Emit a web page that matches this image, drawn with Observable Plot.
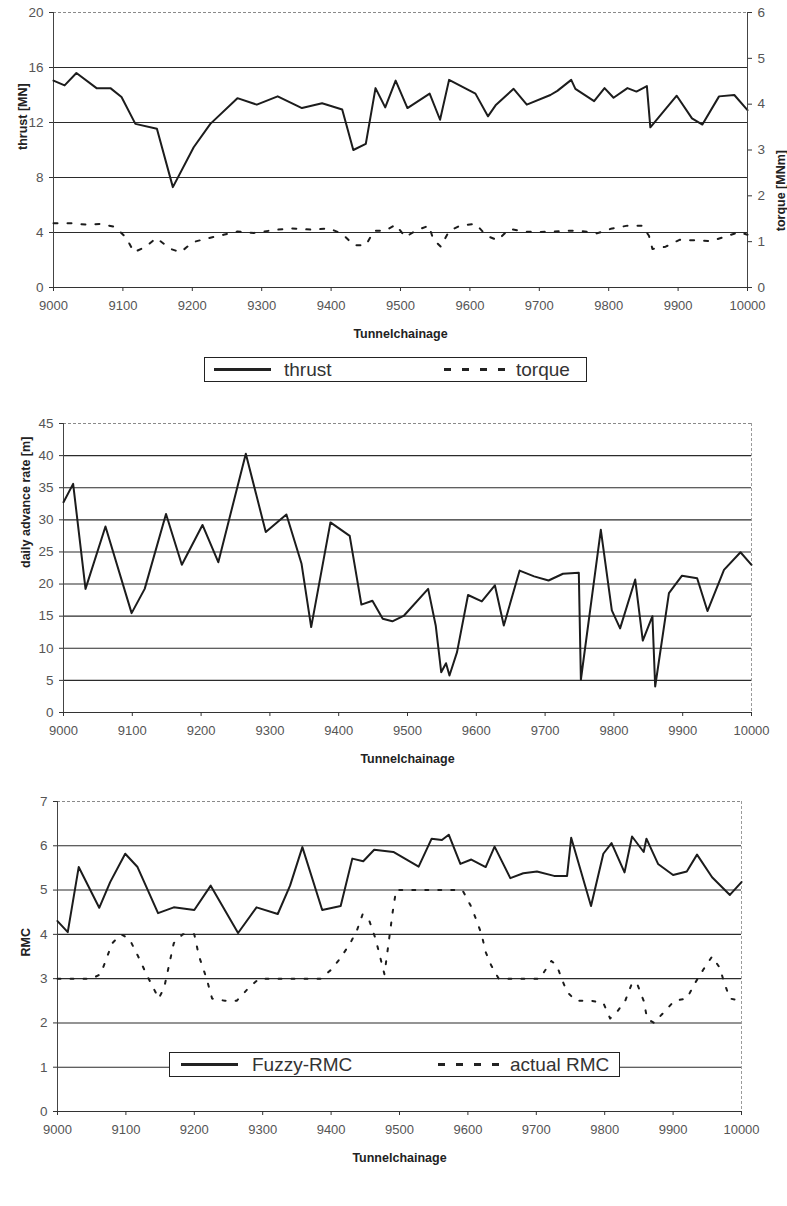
<!DOCTYPE html>
<html><head><meta charset="utf-8">
<script src="https://cdn.jsdelivr.net/npm/d3@7"></script>
<script src="https://cdn.jsdelivr.net/npm/@observablehq/plot@0.6"></script>
<style>
body{margin:0;background:#fff;}
#root{position:relative;width:787px;height:1206px;font-family:"Liberation Sans",Arial,sans-serif;color:#333;}
.layer{position:absolute;left:0;}
.legend{position:absolute;border:1px solid #222;background:#fff;box-sizing:border-box;}
.legend svg{position:absolute;left:0;top:0;overflow:visible;}
</style></head><body><div id="root"></div>
<script>
// ---------- data ----------
const xTickValues = [9000,9100,9200,9300,9400,9500,9600,9700,9800,9900,10000];

const thrustX = [9000,9016,9033,9062,9082,9098,9118,9149,9172,9202,9226,9265,9293,9323,9358,9387,9416,9432,9450,9464,9478,9493,9510,9542,9557,9570,9608,9626,9637,9663,9682,9716,9726,9746,9752,9779,9794,9807,9827,9840,9855,9860,9898,9920,9935,9959,9981,10000];
const thrustV = [15.05,14.7,15.6,14.5,14.5,13.85,11.9,11.55,7.3,10.2,11.9,13.77,13.3,13.9,13.05,13.4,12.95,10.0,10.45,14.5,13.1,15.05,13.05,14.1,12.2,15.1,14.1,12.45,13.25,14.45,13.3,14.0,14.3,15.1,14.45,13.55,14.5,13.8,14.5,14.25,14.65,11.65,13.95,12.3,11.85,13.9,14.0,12.9];

const torqueX = [9000,9027,9049,9068,9089,9105,9116,9133,9148,9169,9183,9201,9224,9245,9265,9289,9321,9344,9373,9397,9416,9433,9450,9462,9478,9493,9507,9522,9541,9547,9558,9570,9586,9608,9624,9640,9657,9677,9697,9719,9740,9762,9783,9803,9827,9848,9858,9863,9882,9902,9925,9947,9966,9988,10000];
const torqueV = [1.40,1.40,1.37,1.39,1.32,1.08,0.77,0.89,1.08,0.84,0.77,0.99,1.08,1.15,1.22,1.19,1.26,1.29,1.26,1.29,1.17,0.92,0.92,1.24,1.24,1.37,1.10,1.24,1.35,1.06,0.89,1.23,1.35,1.39,1.13,1.03,1.28,1.22,1.21,1.22,1.24,1.23,1.18,1.28,1.35,1.35,1.13,0.84,0.89,1.04,1.03,1.01,1.10,1.21,1.15];

const advanceX = [9000,9014,9032,9061,9099,9118,9149,9172,9202,9225,9265,9294,9324,9346,9360,9388,9416,9433,9449,9464,9478,9495,9530,9541,9549,9556,9561,9572,9588,9608,9627,9640,9663,9684,9705,9726,9749,9752,9781,9797,9809,9831,9842,9856,9860,9880,9899,9921,9936,9960,9984,10000];
const advanceV = [32.75,35.6,19.25,28.96,15.47,19.25,30.9,23.0,29.2,23.4,40.3,28.1,30.83,23.15,13.3,29.6,27.5,16.8,17.4,14.6,14.2,15.1,19.25,13.55,6.28,7.68,5.76,9.4,18.3,17.3,19.8,13.55,22.1,21.2,20.55,21.6,21.75,5.1,28.45,15.9,13.1,20.7,11.2,15.0,4.05,18.6,21.3,20.9,15.8,22.2,24.95,23.0];

const fuzzyX = [9000,9015,9031,9061,9077,9099,9117,9147,9170,9200,9224,9264,9291,9322,9340,9358,9387,9414,9431,9447,9463,9491,9528,9547,9562,9572,9589,9605,9626,9639,9662,9681,9701,9726,9745,9751,9780,9798,9810,9829,9840,9857,9861,9878,9900,9920,9935,9957,9983,10000];
const fuzzyV = [4.30,4.05,5.52,4.60,5.18,5.82,5.52,4.48,4.61,4.55,5.10,4.03,4.61,4.46,5.10,5.97,4.55,4.64,5.71,5.65,5.91,5.86,5.53,6.16,6.13,6.25,5.59,5.69,5.52,5.98,5.27,5.38,5.42,5.32,5.32,6.18,4.64,5.82,6.06,5.40,6.21,5.86,6.16,5.59,5.34,5.42,5.80,5.29,4.89,5.18];

const actualX = [9000,9050,9063,9080,9093,9105,9118,9130,9148,9156,9170,9183,9200,9207,9218,9226,9245,9262,9280,9295,9385,9400,9413,9428,9438,9446,9456,9465,9478,9484,9490,9495,9575,9592,9604,9613,9620,9626,9634,9645,9705,9722,9730,9737,9745,9758,9780,9798,9808,9818,9830,9840,9847,9857,9862,9872,9887,9902,9920,9932,9944,9957,9968,9975,9983,10000];
const actualV = [3,3,3.1,3.8,4,3.9,3.5,3.1,2.55,2.8,3.8,4,4,3.5,3.0,2.55,2.5,2.5,2.8,3,3,3.2,3.45,3.8,4.1,4.45,4.3,3.9,3.1,3.8,4.5,5,5,5,4.65,4.3,4,3.6,3.3,3,3,3.4,3.3,3,2.7,2.5,2.5,2.45,2.1,2.25,2.5,2.9,2.9,2.5,2.1,2,2.25,2.5,2.55,2.9,3.2,3.5,3.25,2.9,2.55,2.5];

const thrustTicks = [0,4,8,12,16,20];
const torqueTicks = [0,1,2,3,4,5,6];
const advanceTicks = [0,5,10,15,20,25,30,35,40,45];
const rmcTicks = [0,1,2,3,4,5,6,7];

// ---------- helpers ----------
const zip = (xs, vs) => xs.map((x, i) => ({x, v: vs[i]}));
const FONT = '"Liberation Sans", Arial, sans-serif';
const LINE = "#1c1c1c";
const root = document.getElementById("root");

function place(node, top) {
  node.classList.add("layer");
  node.style.top = top + "px";
  root.appendChild(node);
}

function baseChart({height, mt, mb, ml, mr, yMax, yTicks, yLabel, yLabelDx, lines, rightDark}) {
  const marks = [
    Plot.ruleY(yTicks.filter(v => v > 0 && v < yMax), {stroke: "#2b2b2b", strokeWidth: 1.1}),
    Plot.ruleY([yMax], {stroke: "#8a8a8a", strokeDasharray: "3 2"}),
    rightDark ? null : Plot.ruleX([10000], {stroke: "#9a9a9a", strokeDasharray: "3 2"}),
    Plot.ruleX([9000], {stroke: "#444"}),
    Plot.ruleY([0], {stroke: "#333", strokeWidth: 1.2}),
    Plot.axisX({ticks: xTickValues, tickFormat: d => String(d), tickSize: 4, tickPadding: 9, fontSize: 13, label: null, fill: "#555"}),
    Plot.axisY({ticks: yTicks, tickFormat: d => String(d), tickSize: 4, tickPadding: 6, fontSize: 13.5, label: null, fill: "#555"}),
    Plot.text(["Tunnelchainage"], {text: d => d, frameAnchor: "bottom", dy: 50, fontWeight: "bold", fontSize: 12.5, fill: "#222"}),
    Plot.text([yLabel], {text: d => d, frameAnchor: "left", dx: yLabelDx, rotate: -90, fontWeight: "bold", fontSize: 12.5, fill: "#222"}),
    ...lines
  ].filter(Boolean);
  return Plot.plot({
    width: 787, height,
    marginTop: mt, marginBottom: mb, marginLeft: ml, marginRight: mr,
    style: {background: "transparent", fontFamily: FONT, overflow: "visible", color: "#333"},
    x: {domain: [9000, 10000]},
    y: {domain: [0, yMax]},
    marks
  });
}

// ---------- chart 1: thrust + torque ----------
const c1 = {height: 350, mt: 12, mb: 63, ml: 53, mr: 40};
place(baseChart({
  ...c1, yMax: 20, yTicks: thrustTicks, yLabel: "thrust [MN]", yLabelDx: -31, rightDark: true,
  lines: [Plot.line(zip(thrustX, thrustV), {x: "x", y: "v", stroke: LINE, strokeWidth: 2})]
}), 0);

place(Plot.plot({
  width: 787, height: c1.height,
  marginTop: c1.mt, marginBottom: c1.mb, marginLeft: c1.ml, marginRight: c1.mr,
  style: {background: "transparent", fontFamily: FONT, overflow: "visible", color: "#333"},
  x: {domain: [9000, 10000], axis: null},
  y: {domain: [0, 6]},
  marks: [
    Plot.ruleX([10000], {stroke: "#444"}),
    Plot.axisY({anchor: "right", ticks: torqueTicks, tickFormat: d => String(d), tickSize: 4, tickPadding: 6, fontSize: 13.5, label: null, fill: "#555"}),
    Plot.text(["torque [MNm]"], {text: d => d, frameAnchor: "right", dx: 33, rotate: -90, fontWeight: "bold", fontSize: 12.5, fill: "#222"}),
    Plot.line(zip(torqueX, torqueV), {x: "x", y: "v", stroke: LINE, strokeWidth: 2, strokeDasharray: "4 10"})
  ]
}), 0);

// ---------- chart 2: daily advance rate ----------
place(baseChart({
  height: 390, mt: 33, mb: 68, ml: 63, mr: 36,
  yMax: 45, yTicks: advanceTicks, yLabel: "daily advance rate [m]", yLabelDx: -38,
  lines: [Plot.line(zip(advanceX, advanceV), {x: "x", y: "v", stroke: LINE, strokeWidth: 2})]
}), 390);

// ---------- chart 3: RMC ----------
place(baseChart({
  height: 426, mt: 21, mb: 95, ml: 57, mr: 46,
  yMax: 7, yTicks: rmcTicks, yLabel: "RMC", yLabelDx: -32,
  lines: [
    Plot.line(zip(actualX, actualV), {x: "x", y: "v", stroke: LINE, strokeWidth: 2, strokeDasharray: "3 10"}),
    Plot.line(zip(fuzzyX, fuzzyV), {x: "x", y: "v", stroke: LINE, strokeWidth: 2})
  ]
}), 780);

// ---------- legends ----------
function legend({left, top, width, height, items}) {
  const div = document.createElement("div");
  div.className = "legend";
  Object.assign(div.style, {left: left + "px", top: top + "px", width: width + "px", height: height + "px"});
  const ns = "http://www.w3.org/2000/svg";
  const svg = document.createElementNS(ns, "svg");
  svg.setAttribute("width", width); svg.setAttribute("height", height);
  const cy = height / 2 - 1;
  for (const it of items) {
    const l = document.createElementNS(ns, "line");
    l.setAttribute("x1", it.x1); l.setAttribute("x2", it.x2);
    l.setAttribute("y1", cy); l.setAttribute("y2", cy);
    l.setAttribute("stroke", "#222"); l.setAttribute("stroke-width", 3);
    if (it.dash) l.setAttribute("stroke-dasharray", it.dash);
    svg.appendChild(l);
    const t = document.createElementNS(ns, "text");
    t.setAttribute("x", it.tx); t.setAttribute("y", cy);
    t.setAttribute("dominant-baseline", "central");
    t.setAttribute("font-size", 19); t.setAttribute("font-family", FONT); t.setAttribute("fill", "#333");
    t.textContent = it.label;
    svg.appendChild(t);
  }
  div.appendChild(svg);
  root.appendChild(div);
}
legend({left: 204, top: 357, width: 383, height: 25, items: [
  {x1: 9, x2: 66, tx: 79, label: "thrust"},
  {x1: 239, x2: 301, tx: 311, label: "torque", dash: "7 11"}
]});
legend({left: 169, top: 1052, width: 451, height: 25, items: [
  {x1: 11, x2: 68, tx: 82, label: "Fuzzy-RMC"},
  {x1: 268, x2: 330, tx: 340, label: "actual RMC", dash: "7 11"}
]});
</script>
</body></html>
